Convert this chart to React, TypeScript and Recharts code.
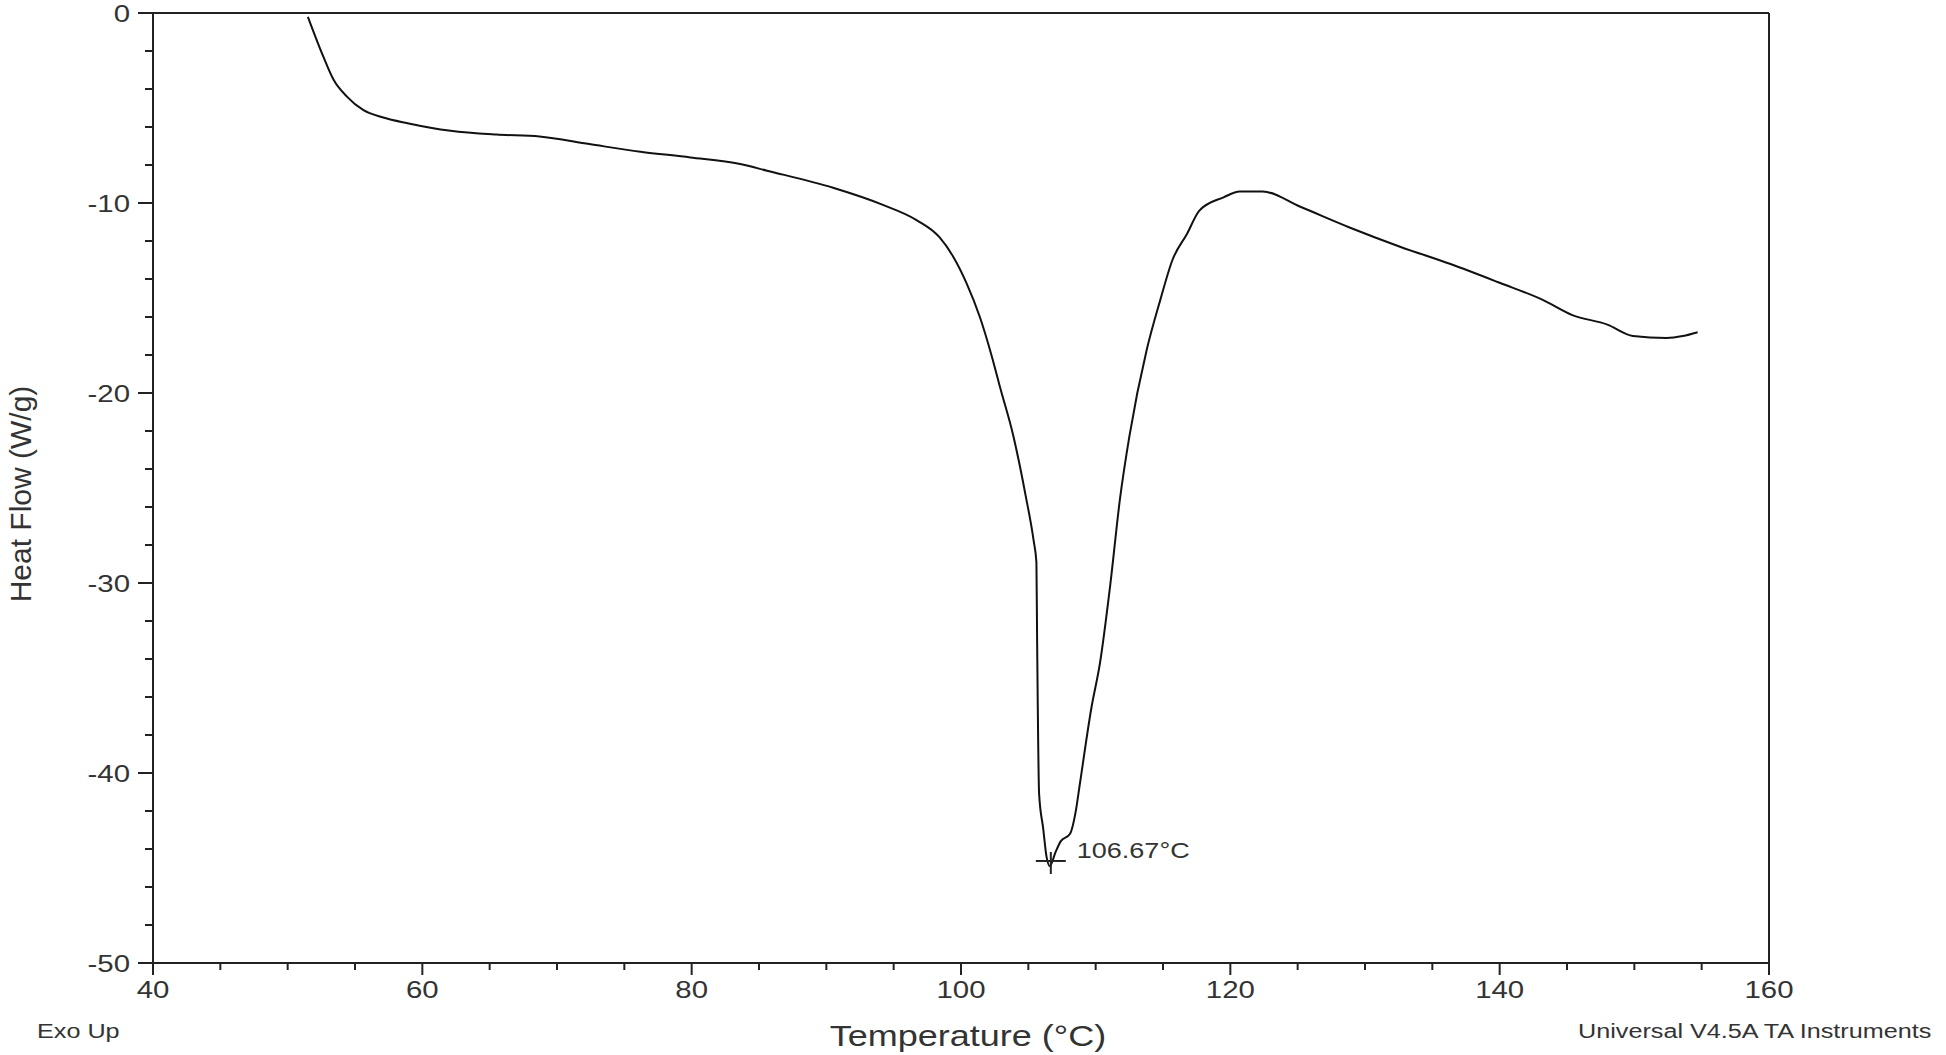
import React from "react";
import {
  LineChart,
  Line,
  XAxis,
  YAxis,
  ReferenceLine,
  ReferenceDot,
} from "recharts";

// DSC scan
const temperature = [
  51.5, 52.65, 53.4, 54.4, 55.6, 57.1, 58.9, 62.1, 65.5, 68.7, 72.4, 76.2,
  79.9, 83.6, 85.6, 90.5, 94.2, 96.7, 98.4, 99.4, 100.4, 101.4, 102.3, 102.9,
  103.9, 104.8, 105.4, 105.6, 105.65, 105.8, 106.1, 106.35, 106.6, 107.0,
  107.4, 108.1, 108.5, 108.8, 109.7, 110.3, 111.1, 111.8, 112.5, 113.8, 114.8,
  115.7, 116.8, 117.7, 119.5, 120.7, 122.4, 125.2, 128.9, 132.6, 136.3, 140.0,
  143.2, 145.4, 148.0, 149.9, 152.4, 153.6, 154.7,
];
const heatFlow = [
  -0.2, -2.3, -3.5, -4.4, -5.1, -5.5, -5.8, -6.2, -6.4, -6.5, -6.9, -7.3,
  -7.6, -7.95, -8.3, -9.2, -10.1, -10.9, -11.8, -12.8, -14.2, -16.0, -18.1,
  -19.7, -22.3, -25.4, -27.8, -28.9, -32.8, -41.1, -42.9, -44.4, -44.9, -44.2,
  -43.6, -43.2, -42.1, -40.7, -36.5, -34.3, -30.0, -25.6, -22.3, -17.7, -15.1,
  -13.0, -11.6, -10.4, -9.7, -9.4, -9.4, -10.2, -11.3, -12.3, -13.2, -14.2,
  -15.1, -15.9, -16.4, -17.0, -17.1, -17.0, -16.8,
];

const xTicks = [
  40, 45, 50, 55, 60, 65, 70, 75, 80, 85, 90, 95, 100, 105, 110, 115, 120, 125,
  130, 135, 140, 145, 150, 155, 160,
];
const yTicks = [
  0, -2, -4, -6, -8, -10, -12, -14, -16, -18, -20, -22, -24, -26, -28, -30, -32,
  -34, -36, -38, -40, -42, -44, -46, -48, -50,
];

const peakT = 106.67;
const peakHF = -44.63;
const peakLabel = "106.67°C";

const data = temperature.map((t, i) => ({ t, hf: heatFlow[i] }));

const INK = "#222";
const TEXT = "#333";
const FONT = "'Liberation Sans', Arial, sans-serif";

function StretchText({ x, y, anchor = "start", size, children }: any) {
  return (
    <text
      transform={`translate(${x} ${y}) scale(1.2 1)`}
      textAnchor={anchor}
      fontSize={size}
      fontFamily={FONT}
      fill={TEXT}
    >
      {children}
    </text>
  );
}

const YTick = (props: any) => {
  const { x, y, payload } = props;
  const major = payload.value % 10 === 0;
  return (
    <g>
      <line x1={x} x2={x - (major ? 15 : 8)} y1={y} y2={y} stroke={INK} strokeWidth={2} />
      {major && (
        <StretchText x={x - 23} y={y + 9} anchor="end" size={24.5}>
          {payload.value}
        </StretchText>
      )}
    </g>
  );
};

const XTick = (props: any) => {
  const { x, y, payload } = props;
  const major = payload.value % 20 === 0;
  return (
    <g>
      <line x1={x} x2={x} y1={y} y2={y + (major ? 12 : 7)} stroke={INK} strokeWidth={2} />
      {major && (
        <StretchText x={x} y={y + 35} anchor="middle" size={24.5}>
          {payload.value}
        </StretchText>
      )}
    </g>
  );
};

const PeakMark = (props: any) => {
  const { cx, cy } = props;
  return (
    <g>
      <line x1={cx - 15} x2={cx + 15} y1={cy} y2={cy} stroke={INK} strokeWidth={2} />
      <line x1={cx} x2={cx} y1={cy - 9} y2={cy + 13} stroke={INK} strokeWidth={2} />
      <StretchText x={cx + 26} y={cy - 3} size={22.5}>
        {peakLabel}
      </StretchText>
    </g>
  );
};

export default function App() {
  return (
    <div style={{ position: "absolute", left: 0, top: 0, width: 1946, height: 1055, background: "#fff" }}>
      <LineChart
        width={1946}
        height={1055}
        data={data}
        margin={{ top: 13, right: 177, bottom: 32, left: 33 }}
      >
        <XAxis
          dataKey="t"
          type="number"
          domain={[40, 160]}
          ticks={xTicks}
          interval={0}
          height={60}
          tickSize={0}
          tickMargin={0}
          tickLine={false}
          tick={<XTick />}
          axisLine={{ stroke: INK, strokeWidth: 2 }}
          allowDataOverflow
        />
        <YAxis
          dataKey="hf"
          type="number"
          domain={[-50, 0]}
          ticks={yTicks}
          interval={0}
          width={120}
          tickSize={0}
          tickMargin={0}
          tickLine={false}
          tick={<YTick />}
          axisLine={{ stroke: INK, strokeWidth: 2 }}
          allowDataOverflow
        />
        <ReferenceLine y={0} stroke={INK} strokeWidth={2} />
        <ReferenceLine x={160} stroke={INK} strokeWidth={2} />
        <Line
          type="monotone"
          dataKey="hf"
          stroke="#111"
          strokeWidth={2}
          dot={false}
          isAnimationActive={false}
        />
        <ReferenceDot x={peakT} y={peakHF} r={0} shape={<PeakMark />} />
      </LineChart>
      <svg
        width={1946}
        height={1055}
        style={{ position: "absolute", left: 0, top: 0, pointerEvents: "none" }}
      >
        <text
          transform="translate(31 494) rotate(-90)"
          textAnchor="middle"
          fontSize={30}
          fontFamily={FONT}
          fill={TEXT}
        >
          Heat Flow (W/g)
        </text>
        <StretchText x={968} y={1046} anchor="middle" size={30}>
          Temperature (°C)
        </StretchText>
        <StretchText x={37} y={1038} size={21}>
          Exo Up
        </StretchText>
        <StretchText x={1578} y={1038} size={21}>
          Universal V4.5A TA Instruments
        </StretchText>
      </svg>
    </div>
  );
}
